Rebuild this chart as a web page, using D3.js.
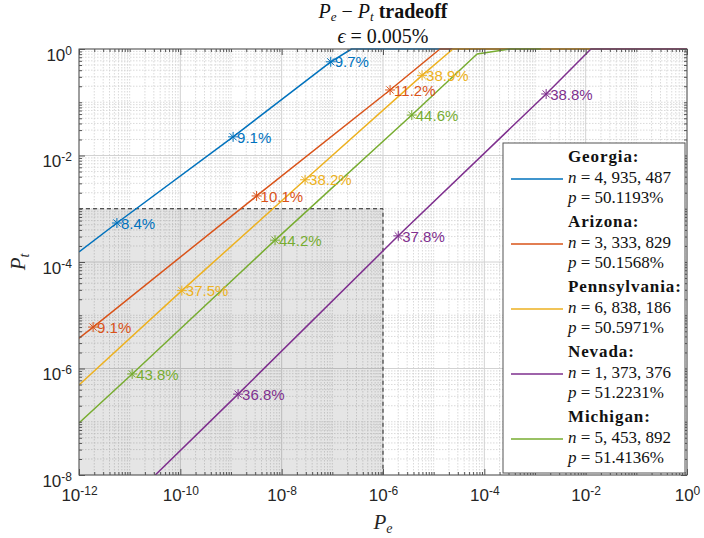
<!DOCTYPE html>
<html>
<head>
<meta charset="utf-8">
<script src="https://cdn.jsdelivr.net/npm/d3@7"></script>
<style>
  body { margin: 0; background: #fff; }
  svg { display: block; }
</style>
</head>
<body>
<svg id="chart" width="704" height="538"></svg>
<script>
// tick labels (decades)
const xMajor = [1e-12, 1e-10, 1e-8, 1e-6, 1e-4, 1e-2, 1]
const yMajor = [1e-8, 1e-6, 1e-4, 1e-2, 1]

// legend entries
const states = ["Georgia", "Arizona", "Pennsylvania", "Nevada", "Michigan"]
const voters = ["4, 935, 487", "3, 333, 829", "6, 838, 186", "1, 373, 376", "5, 453, 892"]
const shares = ["50.1193%", "50.1568%", "50.5971%", "51.2231%", "51.4136%"]
const colors = ["#0072BD", "#D95319", "#EDB120", "#7E2F8E", "#77AC30"]

// curves: [Pe, Pt]
const georgiaCurve = [[1e-12, 1.55e-4], [5.6e-12, 5.4e-4], [1.1e-9, 2.24e-2], [9.3e-8, 0.575], [2.4e-7, 1], [1, 1]]
const arizonaCurve = [[1e-12, 3.7e-6], [1.9e-12, 6.0e-6], [3.2e-9, 1.74e-3], [1.38e-6, 0.17], [1.33e-5, 1], [1, 1]]
const pennsylvaniaCurve = [[1e-12, 4.9e-7], [1.07e-10, 2.9e-5], [2.9e-8, 3.5e-3], [5.9e-6, 0.32], [2.4e-5, 1], [1, 1]]
const nevadaCurve = [[3.2e-11, 1e-8], [1.38e-9, 3.3e-7], [2.0e-6, 3.1e-4], [1.66e-3, 0.143], [1.27e-2, 1], [1, 1]]
const michiganCurve = [[1e-12, 9.5e-8], [1.12e-11, 7.9e-7], [7.4e-9, 2.57e-4], [3.7e-6, 0.0575], [7.2e-5, 0.805], [3.2e-4, 1], [1.3e-3, 1]]

// marked points: [Pe, Pt, label]
const georgiaMarks = [[5.6e-12, 5.4e-4, "8.4%"], [1.1e-9, 2.24e-2, "9.1%"], [9.3e-8, 0.575, "9.7%"]]
const arizonaMarks = [[1.9e-12, 6.0e-6, "9.1%"], [3.2e-9, 1.74e-3, "10.1%"], [1.38e-6, 0.17, "11.2%"]]
const pennsylvaniaMarks = [[1.07e-10, 2.9e-5, "37.5%"], [2.9e-8, 3.5e-3, "38.2%"], [5.9e-6, 0.32, "38.9%"]]
const nevadaMarks = [[1.38e-9, 3.3e-7, "36.8%"], [2.0e-6, 3.1e-4, "37.8%"], [1.66e-3, 0.143, "38.8%"]]
const michiganMarks = [[1.12e-11, 7.9e-7, "43.8%"], [7.4e-9, 2.57e-4, "44.2%"], [3.7e-6, 0.0575, "44.6%"]]

// shaded region limits
const shadePe = 1e-6
const shadePt = 1e-3

const curves = [georgiaCurve, arizonaCurve, pennsylvaniaCurve, nevadaCurve, michiganCurve]
const marks = [georgiaMarks, arizonaMarks, pennsylvaniaMarks, nevadaMarks, michiganMarks]

const width = 704, height = 538
const margin = { top: 49, right: 17, bottom: 63, left: 79 }
const axisColor = "#555"
const sans = "'Liberation Sans', Arial, Helvetica, sans-serif"
const serif = "'Liberation Serif', 'Times New Roman', serif"

const svg = d3.select("#chart")

const x = d3.scaleLog().domain([1e-12, 1]).range([margin.left, width - margin.right])
const y = d3.scaleLog().domain([1e-8, 1]).range([height - margin.bottom, margin.top])

function minorTicks(domain, major) {
    const lo = Math.round(Math.log10(domain[0])), hi = Math.round(Math.log10(domain[1]))
    const out = []
    for (let e = lo; e < hi; e++) {
        for (let m = 1; m < 10; m++) {
            const v = m * Math.pow(10, e)
            if (!major.some(t => Math.abs(Math.log10(t) - Math.log10(v)) < 1e-9)) out.push(v)
        }
    }
    return out
}
const xMinor = minorTicks(x.domain(), xMajor)
const yMinor = minorTicks(y.domain(), yMajor)

const x0 = x.range()[0], x1 = x.range()[1]
const y0 = y.range()[0], y1 = y.range()[1]

// grid
const grid = svg.append("g")
grid.selectAll(".vmin").data(xMinor).join("line")
    .attr("x1", d => x(d)).attr("x2", d => x(d)).attr("y1", y1).attr("y2", y0)
    .attr("stroke", "#d0d0d0").attr("stroke-width", 0.8).attr("stroke-dasharray", "1.5,1.5")
grid.selectAll(".hmin").data(yMinor).join("line")
    .attr("y1", d => y(d)).attr("y2", d => y(d)).attr("x1", x0).attr("x2", x1)
    .attr("stroke", "#d0d0d0").attr("stroke-width", 0.8).attr("stroke-dasharray", "1.5,1.5")
grid.selectAll(".vmaj").data(xMajor).join("line")
    .attr("x1", d => x(d)).attr("x2", d => x(d)).attr("y1", y1).attr("y2", y0)
    .attr("stroke", "#d2d2d2").attr("stroke-width", 1)
grid.selectAll(".hmaj").data(yMajor).join("line")
    .attr("y1", d => y(d)).attr("y2", d => y(d)).attr("x1", x0).attr("x2", x1)
    .attr("stroke", "#d2d2d2").attr("stroke-width", 1)

// shaded region
svg.append("rect")
    .attr("x", x0).attr("y", y(shadePt))
    .attr("width", x(shadePe) - x0).attr("height", y0 - y(shadePt))
    .attr("fill", "#000").attr("fill-opacity", 0.1)
svg.append("path")
    .attr("d", `M${x0},${y(shadePt)}H${x(shadePe)}V${y0}`)
    .attr("fill", "none").attr("stroke", "#222").attr("stroke-width", 1)
    .attr("stroke-dasharray", "4,3")

// clip
svg.append("clipPath").attr("id", "plotclip").append("rect")
    .attr("x", x0).attr("y", y1 - 2).attr("width", x1 - x0).attr("height", y0 - y1 + 2)

const line = d3.line().x(d => x(d[0])).y(d => y(d[1]))
const plot = svg.append("g").attr("clip-path", "url(#plotclip)")

curves.forEach((c, i) => {
    plot.append("path").datum(c)
        .attr("fill", "none").attr("stroke", colors[i]).attr("stroke-width", 1.5)
        .attr("stroke-linejoin", "round")
        .attr("d", line)
})

const star = "M-5,0H5M0,-5V5M-3.6,-3.6L3.6,3.6M-3.6,3.6L3.6,-3.6"
marks.forEach((m, i) => {
    const g = svg.append("g")
    g.selectAll("path").data(m).join("path")
        .attr("transform", d => `translate(${x(d[0])},${y(d[1])})`)
        .attr("d", star).attr("stroke", colors[i]).attr("stroke-width", 1).attr("fill", "none")
    g.selectAll("text").data(m).join("text")
        .attr("x", d => x(d[0]) + 4).attr("y", d => y(d[1]))
        .attr("dy", "0.38em")
        .attr("font-family", sans).attr("font-size", 15)
        .attr("fill", colors[i])
        .text(d => d[2])
})

// axes
function tidy(g) {
    g.select(".domain").remove()
    g.selectAll("line").attr("stroke", axisColor)
}
function powerLabel(g) {
    g.selectAll(".tick text").each(function (d) {
        const t = d3.select(this).text(null)
            .attr("font-family", sans).attr("font-size", 17).attr("fill", "#262626")
        t.append("tspan").text("10")
        t.append("tspan").attr("dy", -6).attr("font-size", 12).text(Math.round(Math.log10(d)))
    })
}

svg.append("g").attr("transform", `translate(0,${y0})`)
    .call(d3.axisBottom(x).tickValues(xMajor).tickSizeInner(-6).tickSizeOuter(0).tickPadding(14))
    .call(tidy).call(powerLabel)
svg.append("g").attr("transform", `translate(0,${y0})`)
    .call(d3.axisBottom(x).tickValues(xMinor).tickSizeInner(-3).tickSizeOuter(0).tickFormat(""))
    .call(tidy)
svg.append("g").attr("transform", `translate(0,${y1})`)
    .call(d3.axisTop(x).tickValues(xMajor).tickSizeInner(-6).tickSizeOuter(0).tickFormat(""))
    .call(tidy)
svg.append("g").attr("transform", `translate(0,${y1})`)
    .call(d3.axisTop(x).tickValues(xMinor).tickSizeInner(-3).tickSizeOuter(0).tickFormat(""))
    .call(tidy)

svg.append("g").attr("transform", `translate(${x0},0)`)
    .call(d3.axisLeft(y).tickValues(yMajor).tickSizeInner(-6).tickSizeOuter(0).tickPadding(7))
    .call(tidy).call(powerLabel)
    .selectAll(".tick text").attr("dy", "0.65em")
svg.append("g").attr("transform", `translate(${x0},0)`)
    .call(d3.axisLeft(y).tickValues(yMinor).tickSizeInner(-3).tickSizeOuter(0).tickFormat(""))
    .call(tidy)
svg.append("g").attr("transform", `translate(${x1},0)`)
    .call(d3.axisRight(y).tickValues(yMajor).tickSizeInner(-6).tickSizeOuter(0).tickFormat(""))
    .call(tidy)
svg.append("g").attr("transform", `translate(${x1},0)`)
    .call(d3.axisRight(y).tickValues(yMinor).tickSizeInner(-3).tickSizeOuter(0).tickFormat(""))
    .call(tidy)

svg.append("rect")
    .attr("x", x0).attr("y", y1).attr("width", x1 - x0).attr("height", y0 - y1)
    .attr("fill", "none").attr("stroke", axisColor).attr("stroke-width", 1)

// axis labels
const xl = svg.append("text")
    .attr("x", (x0 + x1) / 2).attr("y", 529).attr("text-anchor", "middle")
    .attr("font-family", serif).attr("font-size", 21).attr("font-style", "italic").attr("fill", "#262626")
xl.append("tspan").text("P")
xl.append("tspan").attr("font-size", 14).attr("dy", 4).text("e")

const yl = svg.append("text")
    .attr("transform", `translate(25,${(y0 + y1) / 2}) rotate(-90)`).attr("text-anchor", "middle")
    .attr("font-family", serif).attr("font-size", 21).attr("font-style", "italic").attr("fill", "#262626")
yl.append("tspan").text("P")
yl.append("tspan").attr("font-size", 14).attr("dy", 4).text("t")

// title
const t1 = svg.append("text")
    .attr("x", (x0 + x1) / 2).attr("y", 18).attr("text-anchor", "middle")
    .attr("font-family", serif).attr("font-size", 20).attr("fill", "#111")
t1.append("tspan").attr("font-style", "italic").text("P")
t1.append("tspan").attr("font-style", "italic").attr("font-size", 13).attr("dy", 3).text("e")
t1.append("tspan").attr("dy", -3).text(" \u2212 ")
t1.append("tspan").attr("font-style", "italic").text("P")
t1.append("tspan").attr("font-style", "italic").attr("font-size", 13).attr("dy", 3).text("t")
t1.append("tspan").attr("dy", -3).attr("font-weight", "bold").text(" tradeoff")

const t2 = svg.append("text")
    .attr("x", (x0 + x1) / 2).attr("y", 43).attr("text-anchor", "middle")
    .attr("font-family", serif).attr("font-size", 20).attr("fill", "#111")
t2.append("tspan").attr("font-style", "italic").text("\u03f5")
t2.append("tspan").text(" = 0.005%")

// legend
const lg = svg.append("g")
lg.append("rect")
    .attr("x", 503).attr("y", 143).attr("width", 182).attr("height", 330)
    .attr("fill", "#fff").attr("stroke", axisColor).attr("stroke-width", 1)

states.forEach((s, i) => {
    const base = 162 + i * 65
    lg.append("line")
        .attr("x1", 511).attr("x2", 563).attr("y1", base + 17).attr("y2", base + 17)
        .attr("stroke", colors[i]).attr("stroke-width", 1.5)
    lg.append("text").attr("x", 568).attr("y", base)
        .attr("font-family", serif).attr("font-size", 17).attr("font-weight", "bold")
        .attr("letter-spacing", 0.9).attr("fill", "#111")
        .text(s + ":")
    const n = lg.append("text").attr("x", 568).attr("y", base + 21)
        .attr("font-family", serif).attr("font-size", 17).attr("fill", "#111")
    n.append("tspan").attr("font-style", "italic").text("n")
    n.append("tspan").text(" = " + voters[i])
    const p = lg.append("text").attr("x", 568).attr("y", base + 41)
        .attr("font-family", serif).attr("font-size", 17).attr("fill", "#111")
    p.append("tspan").attr("font-style", "italic").text("p")
    p.append("tspan").text(" = " + shares[i])
})
</script>
</body>
</html>
